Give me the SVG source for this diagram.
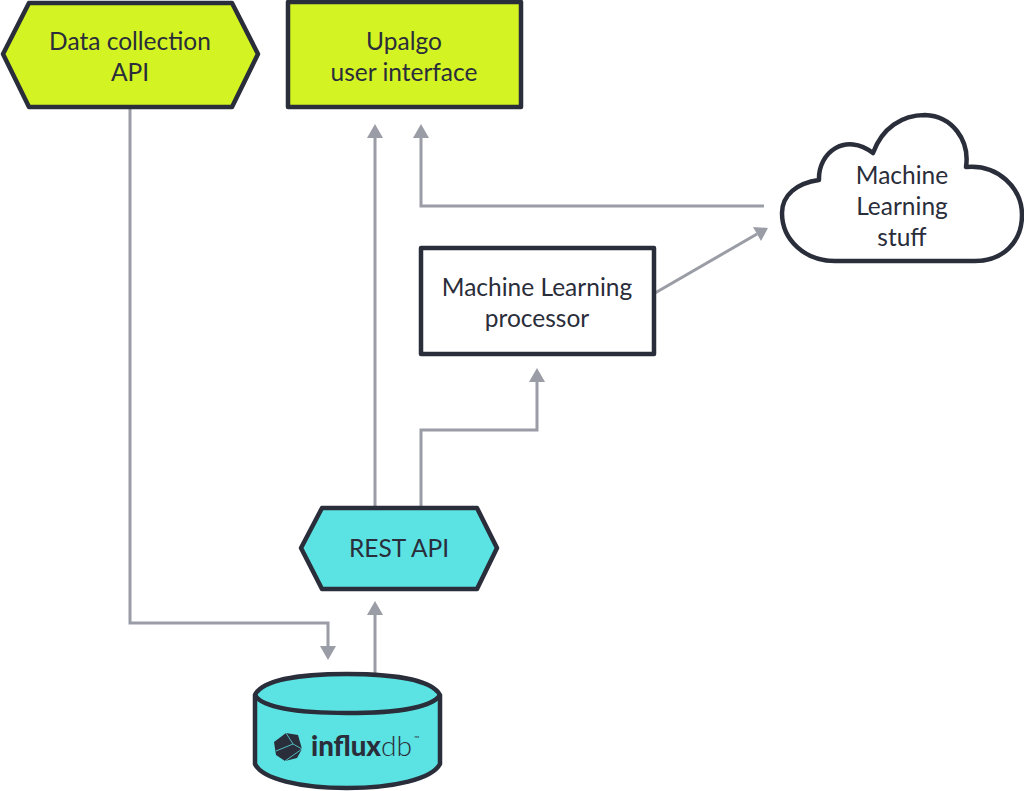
<svg xmlns="http://www.w3.org/2000/svg" width="1024" height="791" viewBox="0 0 1024 791">
<style>
.n{stroke:#2a2d3a;stroke-width:4.5;stroke-linejoin:round}
.lime{fill:#d4f322}.cyan{fill:#5be2e2}.white{fill:#fff}
.t{font-family:"Lato","Liberation Sans",sans-serif;font-size:24.5px;fill:#2a2d3a;text-anchor:middle}
.c{fill:none;stroke:#9a9ca6;stroke-width:3}
.h{fill:#9a9ca6}
.i{font-family:"Lato","Liberation Sans",sans-serif;font-size:28px;fill:#2a2d3a}
</style>
<g id="connectors">
<path class="c" d="M130 108V623H328V648"/><path class="h" d="M320 646H336L328 660Z"/>
<path class="c" d="M375 508V136"/><path class="h" d="M367 138H383L375 124Z"/>
<path class="c" d="M764 206H421V136"/><path class="h" d="M413 138H429L421 124Z"/>
<path class="c" d="M655 293L757 234"/><path class="h" d="M753 227L768 228L761 241Z"/>
<path class="c" d="M421 508V430H537V380"/><path class="h" d="M529 382H545L537 368Z"/>
<path class="c" d="M375 673V612"/><path class="h" d="M367 615H383L375 601Z"/>
</g>
<g id="data-collection-api">
<path class="n lime" d="M29 3H232L258 54L232 107H29L3 54Z"/>
<text class="t" x="130" y="50">Data collection</text><text class="t" x="130" y="81">API</text>
</g>
<g id="upalgo-ui">
<rect class="n lime" x="288" y="2" width="233" height="105"/>
<text class="t" x="404" y="50">Upalgo</text><text class="t" x="404" y="81">user interface</text>
</g>
<g id="ml-stuff">
<path class="n white" d="M819 180C818 152 846 132 873 153C882 128 902 115 925 115C952 116 970 140 966 167C998 164 1022 188 1022 215C1022 242 1003 261 975 261H835C805 261 782 240 782 213C782 195 797 183 819 180Z"/>
<text class="t" x="902" y="184">Machine</text><text class="t" x="902" y="215">Learning</text><text class="t" x="902" y="246">stuff</text>
</g>
<g id="ml-processor">
<rect class="n white" x="421" y="248" width="233" height="106"/>
<text class="t" x="537" y="296">Machine Learning</text><text class="t" x="537" y="327">processor</text>
</g>
<g id="rest-api">
<path class="n cyan" d="M322 508H477L497 548L477 589H322L301 548Z"/>
<text class="t" x="399" y="557">REST API</text>
</g>
<g id="influxdb">
<path class="n cyan" d="M255 695V764C262 779 300 788 347 788C394 788 432 779 440 764V695C432 680 394 674 347 674C300 674 262 680 255 695Z"/>
<path class="n" fill="none" d="M255 695C262 708 300 713 347 713C394 713 432 708 440 695"/>
<path fill="#2a2d3a" d="M286 733L298 735L302 749L297 758L285 761L276 755L274 742Z"/>
<path fill="none" stroke="#5be2e2" stroke-width=".8" d="M286 733L293 744L302 749L285 761M293 744L276 751"/>
<text class="i" x="311" y="756" font-weight="900" textLength="70" lengthAdjust="spacingAndGlyphs">influx</text>
<text class="i" x="381" y="756" font-weight="300" textLength="31" lengthAdjust="spacingAndGlyphs">db</text>
<text x="414" y="741" font-family="Lato,'Liberation Sans',sans-serif" font-size="7" fill="#2a2d3a">™</text>
</g>
</svg>
